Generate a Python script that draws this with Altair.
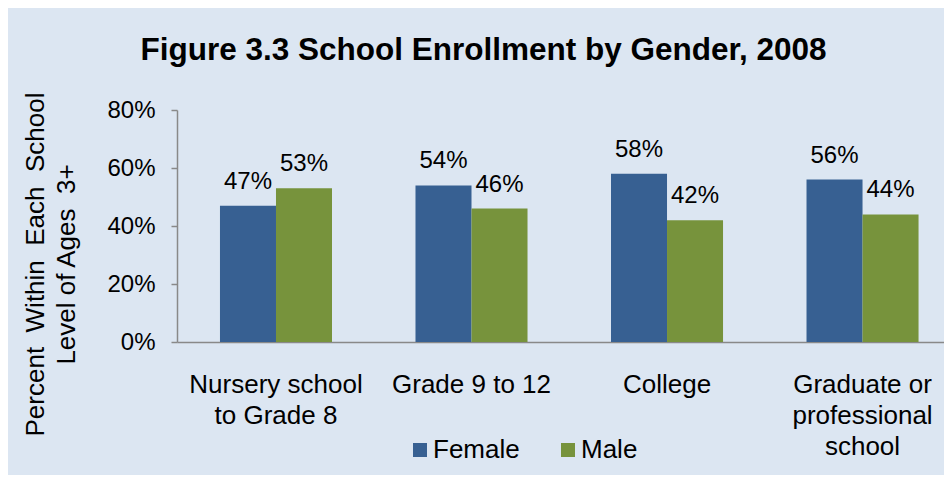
import json
import altair as alt
import pandas as pd

# ---- data ----
categories = ["Nursery school to Grade 8", "Grade 9 to 12", "College",
              "Graduate or professional school"]
category_lines = [["Nursery school", "to Grade 8"], ["Grade 9 to 12"], ["College"],
                  ["Graduate or", "professional", "school"]]
genders = ["Female", "Male"]
female = [0.47, 0.54, 0.58, 0.56]
male = [0.53, 0.46, 0.42, 0.44]
y_ticks = [0, 0.2, 0.4, 0.6, 0.8]
title_text = "Figure 3.3 School Enrollment by Gender, 2008"
y_title = ["Percent\u00a0 Within\u00a0 Each\u00a0 School", "Level of Ages\u00a0 3+"]

colors = ["#376092", "#77933C"]
FONT = "Liberation Sans, Arial, Helvetica, sans-serif"
GRAY = "#898989"

rows = []
for c, f, m in zip(categories, female, male):
    rows.append({"category": c, "gender": "Female", "value": f})
    rows.append({"category": c, "gender": "Male", "value": m})
df = pd.DataFrame(rows)

# multi-line x labels
expr = "datum.value"
for c, lines in reversed(list(zip(categories, category_lines))):
    expr = f"datum.value == {json.dumps(c)} ? {json.dumps(lines)} : ({expr})"

x_enc = alt.X(
    "category:N", sort=categories, title=None,
    scale=alt.Scale(paddingInner=0.427, paddingOuter=0.175, align=0.628),
    axis=alt.Axis(labelExpr=expr, labelAngle=0, labelFontSize=26, labelFont=FONT,
                  labelColor="#000000", labelBaseline="alphabetic", labelPadding=50,
                  labelLineHeight=31, ticks=False, tickSize=0, labelOverlap=False,
                  labelLimit=400, domainColor=GRAY, domainWidth=1.5),
)
xoff = alt.XOffset("gender:N", sort=genders,
                   scale=alt.Scale(paddingInner=0, paddingOuter=0))
y_enc = alt.Y(
    "value:Q", scale=alt.Scale(domain=[0, 0.8]),
    axis=alt.Axis(values=y_ticks, format=".0%", grid=False, labelFontSize=24,
                  labelFont=FONT, labelColor="#000000", labelPadding=16,
                  tickSize=6, tickColor=GRAY, tickWidth=1.5, domainColor=GRAY,
                  domainWidth=1.5, title=y_title, titleFont=FONT, titleFontSize=26,
                  titleFontWeight="normal", titleColor="#000000", titleAngle=270,
                  titleX=-134, titleY=154, titleAlign="center",
                  titleBaseline="alphabetic", titleLineHeight=31),
)

base = alt.Chart(df)
bars = base.mark_bar().encode(
    x=x_enc, xOffset=xoff, y=y_enc,
    color=alt.Color("gender:N", scale=alt.Scale(domain=genders, range=colors),
                    legend=alt.Legend(orient="none", legendX=230, legendY=327,
                                      direction="horizontal", title=None,
                                      symbolType="square", symbolSize=196,
                                      symbolStrokeWidth=0, labelFontSize=26,
                                      labelFont=FONT, labelColor="#000000",
                                      labelOffset=0, columnPadding=35, padding=0)),
)
labels = base.mark_text(fontSize=24, font=FONT, color="#000000",
                        baseline="alphabetic", dy=-17).encode(
    x=x_enc, xOffset=xoff, y=y_enc,
    text=alt.Text("value:Q", format=".0%"),
)

chart = alt.layer(bars, labels).properties(
    width=767, height=232,
    title=alt.TitleParams(title_text, fontSize=31.5, fontWeight="bold", font=FONT,
                          color="#000000", anchor="middle", dx=-77, dy=4,
                          baseline="alphabetic", offset=5),
    autosize=alt.AutoSizeParams(type="none"),
    padding={"left": 169, "top": 102, "right": 0, "bottom": 133},
).configure(background="#DCE6F2").configure_view(stroke=None)

chart.save("out.html", embed_options={"renderer": "svg", "actions": False})
